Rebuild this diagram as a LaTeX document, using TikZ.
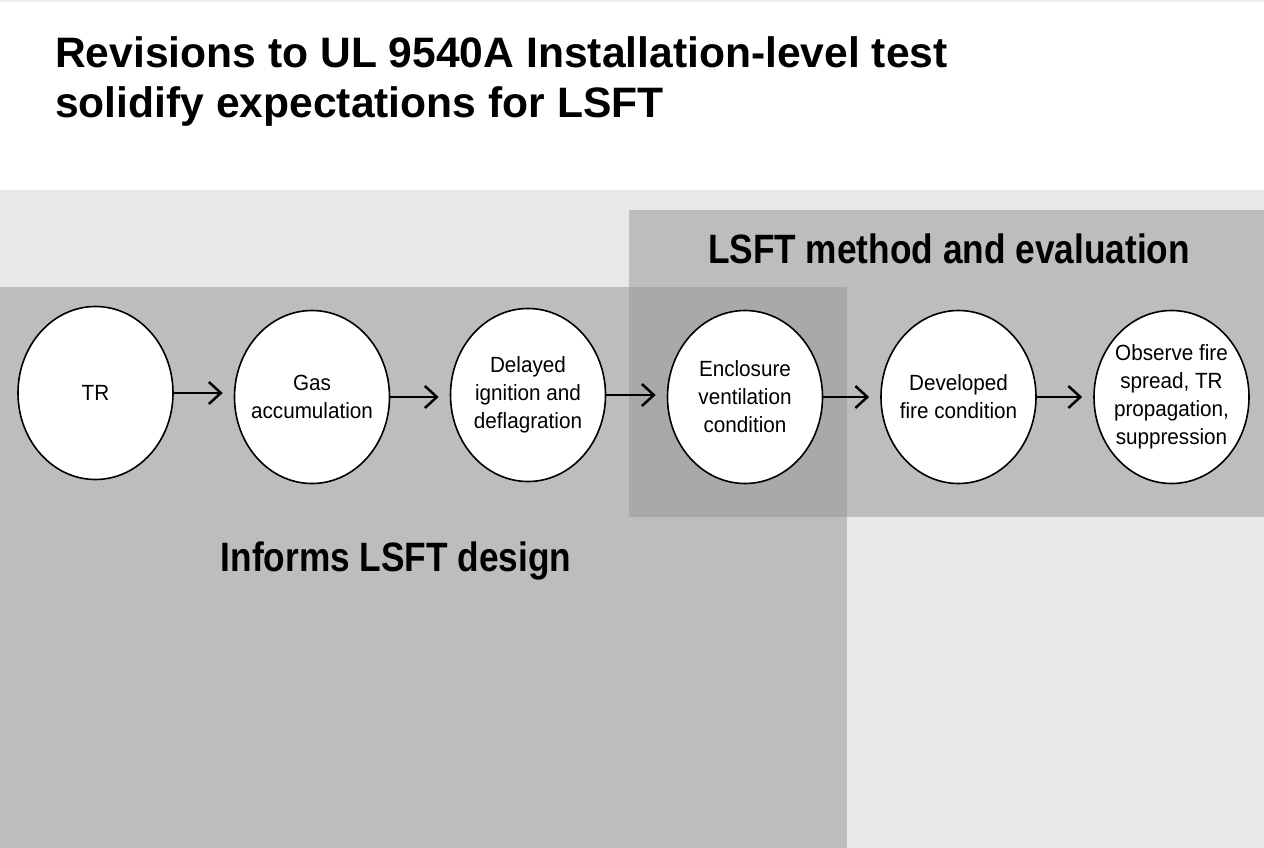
\documentclass[tikz,border=0pt]{standalone}
\usepackage{fontspec}
\setmainfont{Liberation Sans}
\newfontfamily\condfont[FakeStretch=0.86]{Liberation Sans}
\newfontfamily\nodefont[FakeStretch=0.94]{Liberation Sans}
\usetikzlibrary{arrows.meta,shapes.geometric}
\definecolor{bgpale}{HTML}{E8E8E8}
\definecolor{boxgray}{HTML}{BDBDBE}
\definecolor{overlapgray}{HTML}{A9A9A9}
\tikzset{
  stage/.style={ellipse, draw=black, line width=1.6pt, fill=white,
    minimum width=155pt, minimum height=173pt, inner xsep=-16pt, inner ysep=0pt,
    align=center, font=\nodefont\fontsize{22}{28}\selectfont},
  flow/.style={line width=2.5pt, -{Straight Barb[length=12pt,width=22pt,line width=2.5pt]},
    shorten >=11pt, shorten <=0pt},
  heading/.style={font=\condfont\bfseries\fontsize{41}{50}\selectfont, inner sep=0pt},
  titletext/.style={font=\bfseries\fontsize{42.6}{50}\selectfont, inner sep=0pt},
}
\begin{document}
\begin{tikzpicture}[x=1pt,y=-1pt]
\useasboundingbox (0,0) rectangle (1264,848);
\fill[white] (0,0) rectangle (1264,190);
\fill[gray!15] (0,0) rectangle (1264,2);
\fill[bgpale] (0,190) rectangle (1264,848);
\fill[boxgray] (0,287) rectangle (847,848);
\fill[boxgray] (629,210) rectangle (1264,517);
\fill[overlapgray] (629,287) rectangle (847,517);

\node[titletext, anchor=base west] (t1) at (55,68) {Revisions to UL 9540A Installation-level test};
\node[titletext, anchor=base west] (t2) at (55,118) {solidify expectations for LSFT};
\node[heading, anchor=base] (lsft) at (949,263) {LSFT method and evaluation};
\node[heading, anchor=base] (inf) at (396,571) {Informs LSFT design};

\node[stage] (s1) at (95.5,393) {TR};
\node[stage] (s2) at (312,397) {Gas\\accumulation};
\node[stage] (s3) at (528,395) {Delayed\\ignition and\\deflagration};
\node[stage] (s4) at (745,397) {Enclosure\\ventilation\\condition};
\node[stage] (s5) at (958.5,397) {Developed\\fire condition};
\node[stage] (s6) at (1171.5,397) {Observe fire\\spread, TR\\propagation,\\suppression};

\draw[flow] (s1.east) -- (s1.east -| s2.west);
\draw[flow] (s2.east) -- (s2.east -| s3.west);
\draw[flow] (s3.east) -- (s3.east -| s4.west);
\draw[flow] (s4.east) -- (s4.east -| s5.west);
\draw[flow] (s5.east) -- (s5.east -| s6.west);
\end{tikzpicture}
\end{document}
